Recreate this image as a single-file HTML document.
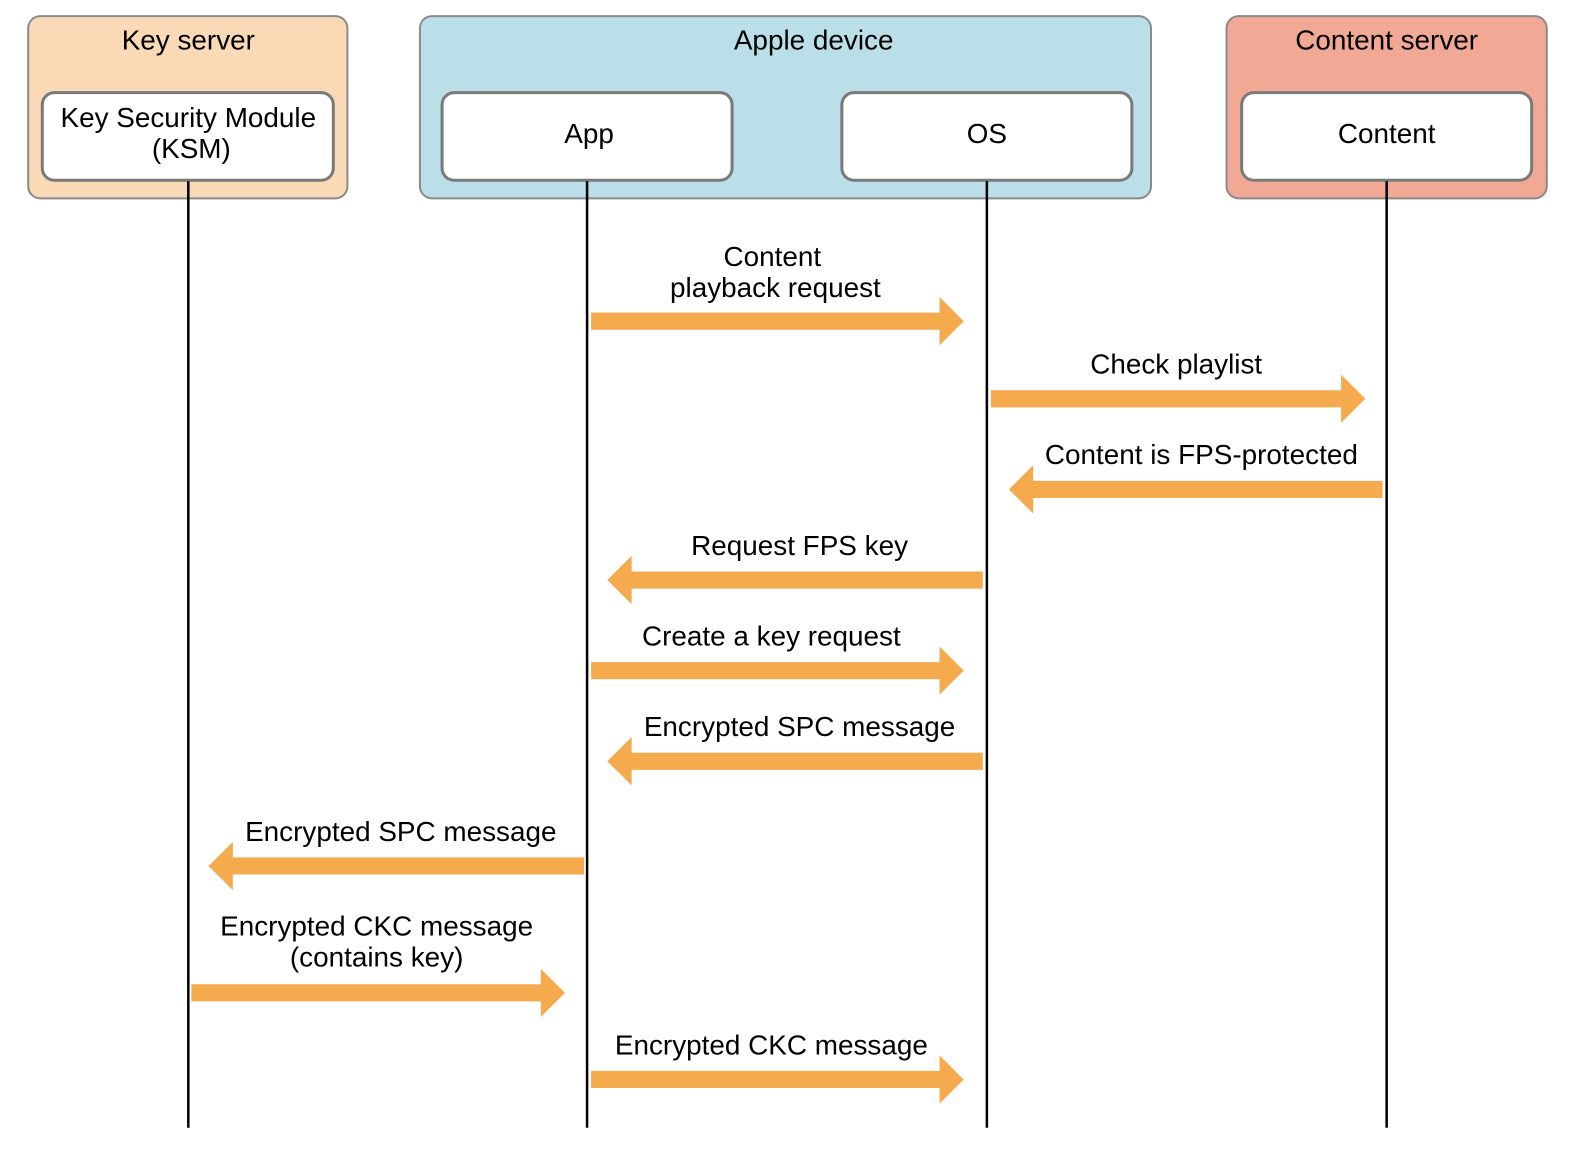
<!DOCTYPE html>
<html><head><meta charset="utf-8"><style>
html,body{margin:0;padding:0;background:#fff;}
svg{display:block;}
text{font-family:"Liberation Sans",Arial,sans-serif;font-size:27.7px;fill:#000;text-anchor:middle;}
</style></head><body>
<svg width="1580" height="1156" viewBox="0 0 1569 1148" preserveAspectRatio="none" xmlns="http://www.w3.org/2000/svg">
<defs>
<g id="ar"><polygon points="0,-8.5 346,-8.5 346,-24 370,0 346,24 346,8.5 0,8.5" fill="#f5aa4e"/></g>
</defs>
<rect x="28" y="16" width="317" height="181" rx="12" fill="#fad9b6" stroke="#8a8a8a" stroke-width="2"/>
<rect x="417" y="16" width="726" height="181" rx="12" fill="#bbdfe9" stroke="#8a8a8a" stroke-width="2"/>
<rect x="1218" y="16" width="318" height="181" rx="12" fill="#f1a995" stroke="#8a8a8a" stroke-width="2"/>
<text x="187" y="49">Key server</text>
<text x="808" y="49">Apple device</text>
<text x="1377" y="49">Content server</text>
<rect x="42" y="92" width="289" height="87" rx="12" fill="#fff" stroke="#7a7a7a" stroke-width="3"/>
<rect x="439" y="92" width="288" height="87" rx="12" fill="#fff" stroke="#7a7a7a" stroke-width="3"/>
<rect x="836" y="92" width="288" height="87" rx="12" fill="#fff" stroke="#7a7a7a" stroke-width="3"/>
<rect x="1233" y="92" width="288" height="87" rx="12" fill="#fff" stroke="#7a7a7a" stroke-width="3"/>
<text x="187" y="126">Key Security Module</text>
<text x="190" y="157">(KSM)</text>
<text x="585" y="142">App</text>
<text x="980" y="142">OS</text>
<text x="1377" y="142">Content</text>
<g stroke="#000" stroke-width="2.5">
<line x1="187" y1="180" x2="187" y2="1120"/>
<line x1="583" y1="180" x2="583" y2="1120"/>
<line x1="980" y1="180" x2="980" y2="1120"/>
<line x1="1377" y1="180" x2="1377" y2="1120"/>
</g>
<use href="#ar" transform="translate(587,319)"/>
<use href="#ar" transform="translate(984,396) scale(1.005,1)"/>
<use href="#ar" transform="translate(1373,486) scale(-1.003,1)"/>
<use href="#ar" transform="translate(976,576) scale(-1.008,1)"/>
<use href="#ar" transform="translate(587,666)"/>
<use href="#ar" transform="translate(976,756) scale(-1.008,1)"/>
<use href="#ar" transform="translate(580,860) scale(-1.008,1)"/>
<use href="#ar" transform="translate(190,986) scale(1.003,1)"/>
<use href="#ar" transform="translate(587,1072)"/>
<text x="767" y="264">Content</text>
<text x="770" y="295">playback request</text>
<text x="1168" y="371">Check playlist</text>
<text x="1193" y="461">Content is FPS-protected</text>
<text x="794" y="551">Request FPS key</text>
<text x="766" y="641">Create a key request</text>
<text x="794" y="731">Encrypted SPC message</text>
<text x="398" y="835">Encrypted SPC message</text>
<text x="374" y="929">Encrypted CKC message</text>
<text x="374" y="960">(contains key)</text>
<text x="766" y="1047">Encrypted CKC message</text>
</svg>
</body></html>
